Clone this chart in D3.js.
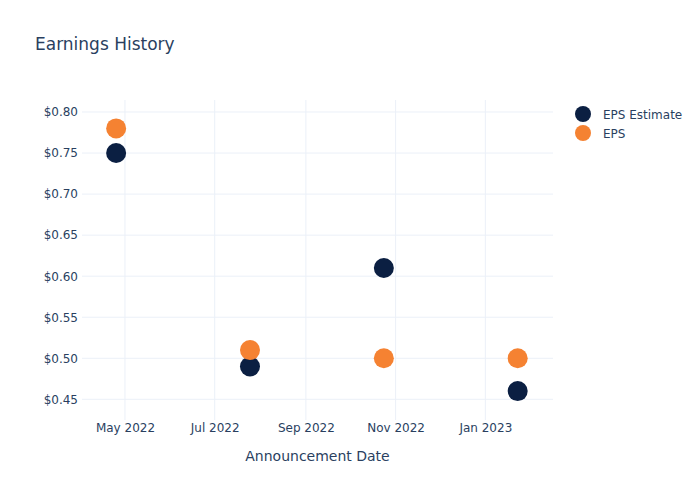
<!DOCTYPE html>
<html>
<head>
<meta charset="utf-8">
<script src="https://cdn.jsdelivr.net/npm/d3@7"></script>
<style>
  body { margin: 0; background: #fff; }
  svg text { font-family: "DejaVu Sans", "Open Sans", Verdana, sans-serif; fill: #2a3f5f; }
</style>
</head>
<body>
<script>
const dates = ["2022-04-25", "2022-07-25", "2022-10-24", "2023-01-23"];
const epsEstimate = [0.75, 0.49, 0.61, 0.46];
const eps = [0.78, 0.51, 0.50, 0.50];
const yTicks = [0.45, 0.50, 0.55, 0.60, 0.65, 0.70, 0.75, 0.80];
const xTickDates = ["2022-05-01", "2022-07-01", "2022-09-01", "2022-11-01", "2023-01-01"];
const seriesNames = ["EPS Estimate", "EPS"];
const seriesColors = ["#0b1f42", "#f58232"];

const W = 700, H = 500;
const m = { left: 82, right: 553, top: 100, bottom: 420 };
const parse = d3.utcParse("%Y-%m-%d");

const svg = d3.select("body").append("svg").attr("width", W).attr("height", H);

const x = d3.scaleUtc()
  .domain([new Date(Date.UTC(2022, 3, 1, 19)), new Date(Date.UTC(2023, 1, 16, 0))])
  .range([m.left, m.right]);
const y = d3.scaleLinear().domain([0.4248, 0.8146]).range([m.bottom, m.top]);

// grid
svg.append("g").selectAll("line").data(yTicks).join("line")
  .attr("x1", m.left).attr("x2", m.right)
  .attr("y1", d => y(d)).attr("y2", d => y(d))
  .attr("stroke", "#ebf0f8").attr("stroke-width", 1);
svg.append("g").selectAll("line").data(xTickDates).join("line")
  .attr("x1", d => x(parse(d))).attr("x2", d => x(parse(d)))
  .attr("y1", m.top).attr("y2", m.bottom)
  .attr("stroke", "#ebf0f8").attr("stroke-width", 1);

// y axis
const yAxis = d3.axisLeft(y).tickValues(yTicks).tickFormat(d => "$" + d3.format(".2f")(d)).tickSize(0).tickPadding(4);
const gy = svg.append("g").attr("transform", `translate(${m.left},0)`).call(yAxis);
gy.select(".domain").remove();
gy.selectAll("text").style("font-size", "12px").attr("fill", "#2a3f5f");

// x axis
const xAxis = d3.axisBottom(x).tickValues(xTickDates.map(parse)).tickFormat(d3.utcFormat("%b %Y")).tickSize(0).tickPadding(3);
const gx = svg.append("g").attr("transform", `translate(0,${m.bottom})`).call(xAxis);
gx.select(".domain").remove();
gx.selectAll("text").style("font-size", "12px").attr("fill", "#2a3f5f");

// title
svg.append("text").attr("x", 35).attr("y", 50).style("font-size", "17px").text("Earnings History");
svg.append("text").attr("x", (m.left + m.right) / 2).attr("y", 461).attr("text-anchor", "middle")
  .style("font-size", "14px").text("Announcement Date");

// points
[epsEstimate, eps].forEach((vals, i) => {
  svg.append("g").selectAll("circle").data(vals).join("circle")
    .attr("cx", (d, j) => x(parse(dates[j])))
    .attr("cy", d => y(d))
    .attr("r", 10)
    .attr("fill", seriesColors[i]);
});

// legend
seriesNames.forEach((name, i) => {
  const ly = 114 + i * 19;
  svg.append("circle").attr("cx", 583).attr("cy", ly).attr("r", 8).attr("fill", seriesColors[i]);
  svg.append("text").attr("x", 603).attr("y", ly + 4.5).style("font-size", "12px").text(name);
});
</script>
</body>
</html>
